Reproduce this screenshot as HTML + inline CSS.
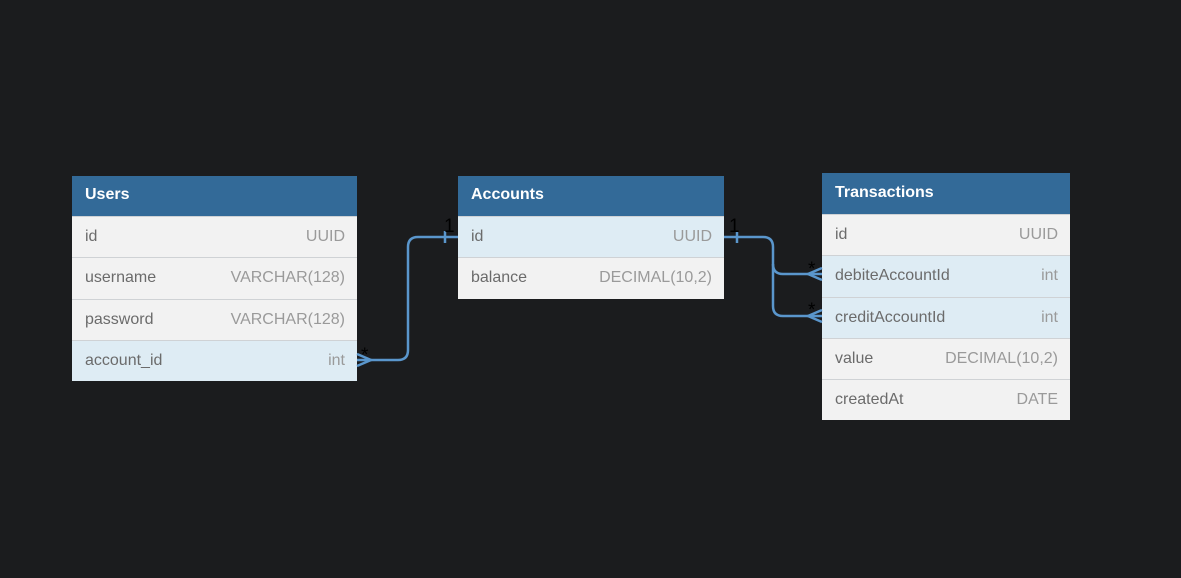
<!DOCTYPE html>
<html><head><style>
body{margin:0;width:1181px;height:578px;background:#1b1c1e;position:relative;overflow:hidden;font-family:"Liberation Sans",sans-serif;}
.t{position:absolute;}
.h{background:#336a98;color:#fff;font-weight:bold;font-size:16px;height:40px;line-height:38px;padding-left:13px;box-sizing:border-box;}
.r{background:#f2f2f2;height:41.25px;line-height:39px;padding:0 12px 0 13px;box-sizing:border-box;border-top:1px solid #cfd2d5;font-size:16px;color:#6b6b6b;display:flex;justify-content:space-between;}
.r.s{background:#deecf4;}
.r span:last-child{color:#9a9a9a;}
svg{position:absolute;left:0;top:0;}
</style></head><body>
<div class="t" style="left:72px;top:176px;width:285px">
<div class="h">Users</div>
<div class="r"><span>id</span><span>UUID</span></div>
<div class="r"><span>username</span><span>VARCHAR(128)</span></div>
<div class="r"><span>password</span><span>VARCHAR(128)</span></div>
<div class="r s"><span>account_id</span><span>int</span></div>
</div>
<div class="t" style="left:458px;top:176px;width:266px">
<div class="h">Accounts</div>
<div class="r s"><span>id</span><span>UUID</span></div>
<div class="r"><span>balance</span><span>DECIMAL(10,2)</span></div>
</div>
<div class="t" style="left:822px;top:173px;width:248px">
<div class="h" style="height:41px;line-height:39px">Transactions</div>
<div class="r"><span>id</span><span>UUID</span></div>
<div class="r s"><span>debiteAccountId</span><span>int</span></div>
<div class="r s"><span>creditAccountId</span><span>int</span></div>
<div class="r"><span>value</span><span>DECIMAL(10,2)</span></div>
<div class="r"><span>createdAt</span><span>DATE</span></div>
</div>
<svg width="1181" height="578" fill="none" stroke="#5a96cc" stroke-width="2.5">
<path d="M357 360 H398 Q408 360 408 350 V247 Q408 237 418 237 H458"/>
<path d="M445 231 V243"/>
<path d="M357 354 L371 360 L357 366"/>
<path d="M724 237 H763 Q773 237 773 247 V264 Q773 274 783 274 H822"/>
<path d="M773 264 V306 Q773 316 783 316 H822"/>
<path d="M737 231 V243"/>
<path d="M822 268 L808 274 L822 280"/>
<path d="M822 310 L808 316 L822 322"/>
<g fill="#000" stroke="none" font-size="19" font-family="Liberation Sans,sans-serif">
<text x="361" y="361">*</text>
<text x="444" y="232">1</text>
<text x="729" y="232">1</text>
<text x="808" y="275">*</text>
<text x="808" y="316">*</text>
</g>
</svg>
</body></html>
